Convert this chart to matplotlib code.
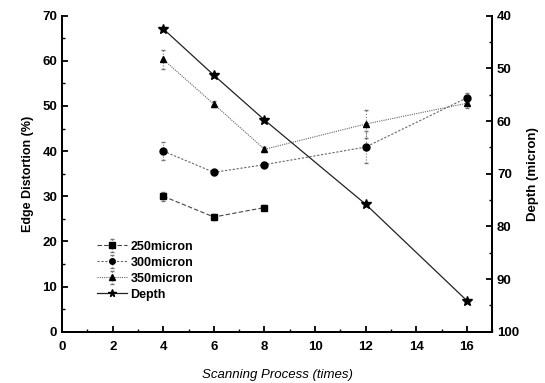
import numpy as np
import matplotlib
matplotlib.use('Agg')
import matplotlib.pyplot as plt
from matplotlib.ticker import MultipleLocator

plt.rcParams['font.family'] = ['Liberation Sans', 'DejaVu Sans']

# Data
x_250 = [4, 6, 8]
y_250 = [30.0, 25.4, 27.5]
e_250 = [1.0, 0.6, 0.6]

x_300 = [4, 6, 8, 12, 16]
y_300 = [40.0, 35.3, 37.0, 40.9, 51.8]
e_300 = [2.0, 0.6, 0.6, 3.5, 1.0]

x_350 = [4, 6, 8, 12, 16]
y_350 = [60.3, 50.4, 40.4, 46.0, 50.6]
e_350 = [2.0, 0.6, 0.6, 3.0, 1.0]

x_depth = [4, 6, 8, 12, 16]
depth = [42.5, 51.3, 59.8, 75.8, 94.1]

fig = plt.figure(figsize=(5.45, 3.83), dpi=100)
ax = fig.add_axes([0.114, 0.134, 0.789, 0.825])

common = dict(linewidth=0.8, markersize=5, markerfacecolor='black',
              markeredgecolor='black', capsize=1.5, elinewidth=0.8)
l1 = ax.errorbar(x_250, y_250, yerr=e_250, color='#444444', ecolor='#777777',
                 linestyle=(0, (4, 2)), marker='s', label='250micron', **common)
l2 = ax.errorbar(x_300, y_300, yerr=e_300, color='#666666', ecolor='#777777',
                 linestyle=(0, (2, 1.5)), marker='o', label='300micron', **common)
l3 = ax.errorbar(x_350, y_350, yerr=e_350, color='#666666', ecolor='#777777',
                 linestyle=(0, (1, 1)), marker='^', label='350micron', **common)
for c in (l1, l2, l3):
    for b in c[2]:
        b.set_linestyle(':')

ax2 = ax.twinx()
l4, = ax2.plot(x_depth, depth, color='#222222', linewidth=0.9, marker='*',
               markersize=7, markerfacecolor='black', markeredgecolor='black',
               label='Depth')

ax.set_xlim(0, 17)
ax.set_ylim(0, 70)
ax2.set_ylim(100, 40)

ax.xaxis.set_major_locator(MultipleLocator(2))
ax.xaxis.set_minor_locator(MultipleLocator(1))
ax.yaxis.set_major_locator(MultipleLocator(10))
ax.yaxis.set_minor_locator(MultipleLocator(5))
ax2.yaxis.set_major_locator(MultipleLocator(10))
ax2.yaxis.set_minor_locator(MultipleLocator(5))

for a in (ax, ax2):
    a.spines['top'].set_visible(False)
    for s in ('left', 'right', 'bottom'):
        a.spines[s].set_linewidth(1.4)
    a.tick_params(which='major', direction='in', length=4, width=1.3,
                  labelsize=9.5)
    a.tick_params(which='minor', direction='in', length=2.5, width=1)
ax.tick_params(axis='y', which='both', right=False)
ax2.tick_params(axis='y', which='both', left=False)
ax.tick_params(axis='x', pad=7)

for lab in ax.get_xticklabels() + ax.get_yticklabels() + ax2.get_yticklabels():
    lab.set_fontweight('bold')

ax.set_xlabel('Scanning Process (times)', fontsize=9.5, style='italic', labelpad=11)
ax.set_ylabel('Edge Distortion (%)', fontsize=9, fontweight='bold', labelpad=6)
ax2.set_ylabel('Depth (micron)', fontsize=9.5, fontweight='bold', labelpad=6)

leg = ax.legend([l1, l2, l3, l4], ['250micron', '300micron', '350micron', 'Depth'],
                loc='lower left', bbox_to_anchor=(0.06, 0.07), frameon=False,
                fontsize=9, handlelength=2.4, handletextpad=0.3,
                labelspacing=0.32, markerscale=0.8, borderpad=0.2)
for t in leg.get_texts():
    t.set_fontweight('bold')

fig.savefig('out.png', dpi=100)
